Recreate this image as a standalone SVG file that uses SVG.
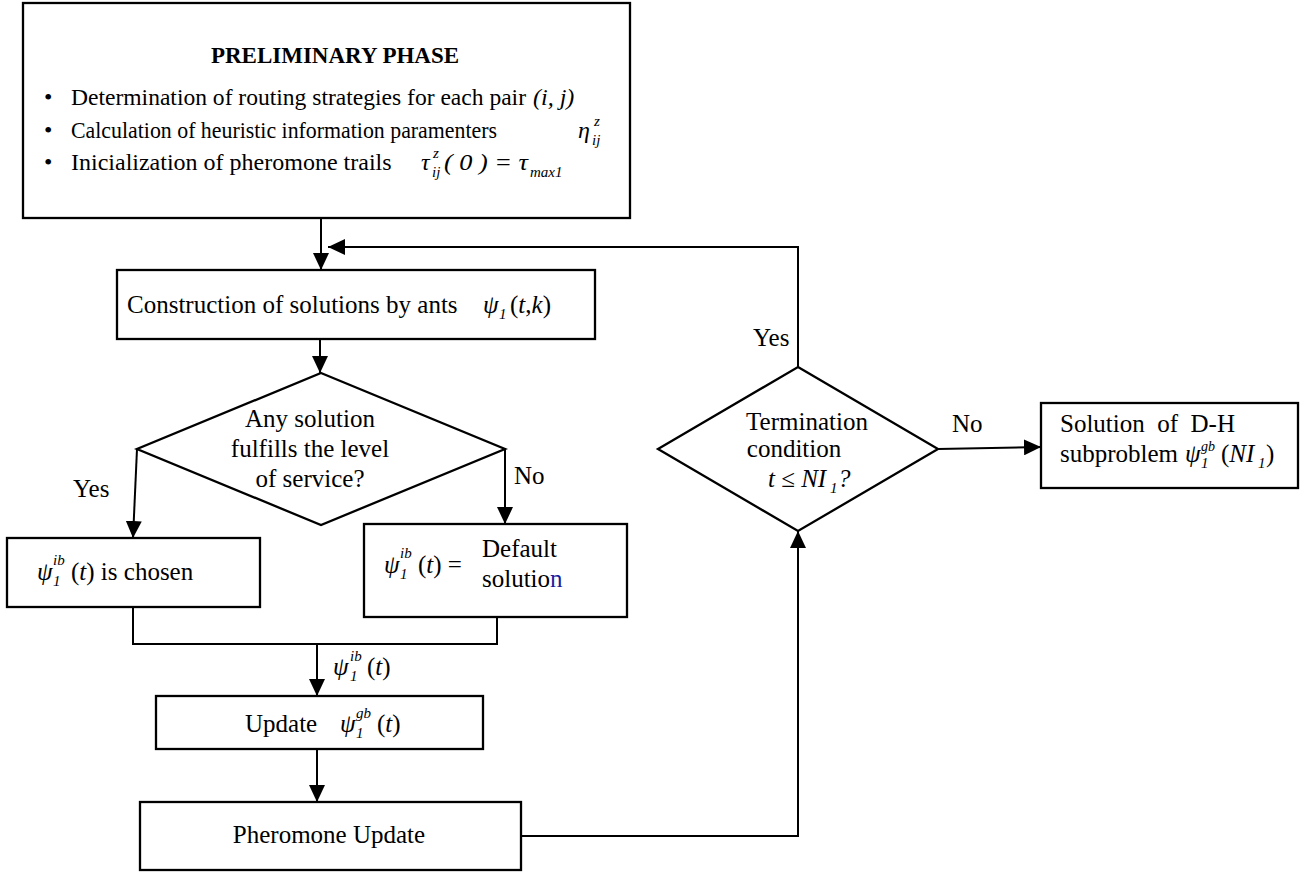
<svg xmlns="http://www.w3.org/2000/svg" width="1316" height="874" viewBox="0 0 1316 874">
<style>
.t{font-family:"Liberation Serif","Times New Roman",serif;font-size:25px;fill:#000}
.m{font-size:24px}
.i{font-style:italic}
.s{font-family:"Liberation Serif","Times New Roman",serif;font-size:15px;font-style:italic;fill:#000}
.b{font-weight:bold;font-size:23px}
.box{fill:#fff;stroke:#000;stroke-width:2.3}
.ln{fill:none;stroke:#000;stroke-width:2}
</style>
<defs>
<marker id="ah" viewBox="0 0 17 16" refX="17" refY="8" markerWidth="17" markerHeight="16" markerUnits="userSpaceOnUse" orient="auto"><path d="M0,0 L17,8 L0,16 z" fill="#000"/></marker>
</defs>
<rect width="1316" height="874" fill="#fff"/>

<g id="connectors">
<path class="ln" d="M321,218 V270" marker-end="url(#ah)"/>
<path class="ln" d="M798,367 V247 H328" marker-end="url(#ah)"/>
<path class="ln" d="M320,339 V373" marker-end="url(#ah)"/>
<path class="ln" d="M137,449 L133,538" marker-end="url(#ah)"/>
<path class="ln" d="M505,449 V524" marker-end="url(#ah)"/>
<path class="ln" d="M133,607 V644 H497 V617"/>
<path class="ln" d="M317,644 V696" marker-end="url(#ah)"/>
<path class="ln" d="M317,749 V802" marker-end="url(#ah)"/>
<path class="ln" d="M521,836 H798 V531" marker-end="url(#ah)"/>
<path class="ln" d="M938,449 L1041,447" marker-end="url(#ah)"/>
<text class="t" x="73" y="497">Yes</text>
<text class="t" x="514" y="484">No</text>
<text class="t" x="753" y="346">Yes</text>
<text class="t" x="952" y="432">No</text>
<g id="lbl-psi-ib">
<text class="t i" x="333" y="675">ψ</text>
<text class="s" x="350" y="681">1</text>
<text class="s" x="350" y="661">ib</text>
<text class="t" x="367" y="675">(<tspan class="i">t</tspan>)</text>
</g>
</g>

<g id="preliminary">
<rect class="box" x="23" y="3" width="607" height="215"/>
<text class="t b" x="335" y="63" text-anchor="middle">PRELIMINARY PHASE</text>
<text class="t m" x="44" y="105">•</text>
<text class="t m" x="71" y="105" textLength="455" lengthAdjust="spacingAndGlyphs">Determination of routing strategies for each pair</text>
<text class="t m i" x="533" y="105">(i, j)</text>
<text class="t m" x="44" y="138">•</text>
<text class="t m" x="71" y="138" textLength="426" lengthAdjust="spacingAndGlyphs">Calculation of heuristic information paramenters</text>
<text class="t m i" x="578" y="138">η</text>
<text class="s" x="594" y="126">z</text>
<text class="s" x="592" y="145">ij</text>
<text class="t m" x="44" y="170">•</text>
<text class="t m" x="71" y="170">Inicialization of pheromone trails</text>
<text class="t m i" x="421" y="170">τ</text>
<text class="s" x="433" y="158">z</text>
<text class="s" x="432" y="177">ij</text>
<text class="t m i" x="444" y="170" textLength="84" lengthAdjust="spacingAndGlyphs">( 0 ) = τ</text>
<text class="s" x="530" y="177">max1</text>
</g>

<g id="construction">
<rect class="box" x="117" y="270" width="478" height="69"/>
<text class="t" x="127" y="313">Construction of solutions by ants</text>
<text class="t i" x="483" y="313">ψ</text>
<text class="s" x="499" y="319">1</text>
<text class="t" x="510" y="313">(<tspan class="i">t</tspan>,<tspan class="i">k</tspan>)</text>
</g>

<g id="decision-service">
<polygon class="box" points="321,373 505,449 321,525 137,449"/>
<text class="t" x="310" y="427" text-anchor="middle">Any solution</text>
<text class="t" x="310" y="457" text-anchor="middle">fulfills the level</text>
<text class="t" x="310" y="487" text-anchor="middle">of service?</text>
</g>

<g id="chosen">
<rect class="box" x="7" y="538" width="253" height="69"/>
<text class="t i" x="37" y="580">ψ</text>
<text class="s" x="53" y="586">1</text>
<text class="s" x="53" y="565">ib</text>
<text class="t" x="71" y="580">(<tspan class="i">t</tspan>) is chosen</text>
</g>

<g id="default">
<rect class="box" x="364" y="524" width="263" height="93"/>
<text class="t i" x="384" y="573">ψ</text>
<text class="s" x="400" y="579">1</text>
<text class="s" x="400" y="558">ib</text>
<text class="t" x="418" y="573">(<tspan class="i">t</tspan>) =</text>
<text class="t" x="482" y="557">Default</text>
<text class="t" x="482" y="587">solutio<tspan fill="#1a1a9c">n</tspan></text>
</g>

<g id="update">
<rect class="box" x="156" y="696" width="327" height="53"/>
<text class="t" x="245" y="732">Update</text>
<text class="t i" x="340" y="732">ψ</text>
<text class="s" x="356" y="738">1</text>
<text class="s" x="356" y="718">gb</text>
<text class="t" x="377" y="732">(<tspan class="i">t</tspan>)</text>
</g>

<g id="pheromone">
<rect class="box" x="140" y="802" width="381" height="68"/>
<text class="t" x="329" y="843" text-anchor="middle">Pheromone Update</text>
</g>

<g id="decision-termination">
<polygon class="box" points="798,367 938,449 798,531 658,449"/>
<text class="t" x="807" y="430" text-anchor="middle">Termination</text>
<text class="t" x="794" y="457" text-anchor="middle">condition</text>
<text class="t i" x="768" y="487">t ≤ NI</text>
<text class="s" x="830" y="493">1</text>
<text class="t i" x="838" y="487">?</text>
</g>

<g id="result">
<rect class="box" x="1041" y="403" width="257" height="85"/>
<text class="t" x="1060" y="432" xml:space="preserve">Solution  of  D-H</text>
<text class="t" x="1060" y="462">subproblem</text>
<text class="t i" x="1185" y="462">ψ</text>
<text class="s" x="1201" y="468">1</text>
<text class="s" x="1201" y="451" style="font-size:14px">gb</text>
<text class="t" x="1221" y="462">(<tspan class="i">NI</tspan></text>
<text class="s" x="1258" y="468">1</text>
<text class="t" x="1266" y="462">)</text>
</g>
</svg>
